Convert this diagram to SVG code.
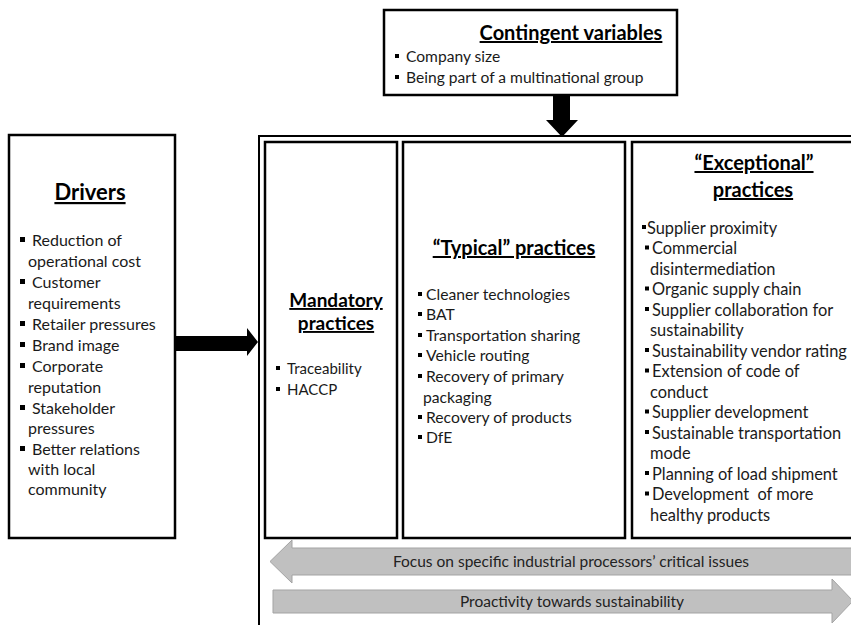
<svg xmlns="http://www.w3.org/2000/svg" width="851" height="625" viewBox="0 0 851 625">
<style>
text{font-family:Lato,"Open Sans","Liberation Sans",sans-serif;fill:#1a1a1a}
.box{fill:#fff;stroke:#000;stroke-width:2.5}
.outer{fill:#fff;stroke:#000;stroke-width:2}
.title{font-weight:bold;font-size:20px;text-decoration:underline;text-anchor:middle;fill:#000}
.b16{font-size:16px}
.b15{font-size:15px}
.bt{font-size:15.7px}
.bx{font-size:16.4px}
.bc{font-size:15.6px}
.sq{fill:#000}
.black{fill:#000}
.gray{fill:#c0c0c0;stroke:#a3a3a3;stroke-width:1}
.glab{font-size:15.5px;text-anchor:middle;fill:#222}
</style>
<g id="practices-frame">
<rect class="outer" x="259" y="136" width="700" height="600"/>
</g>
<g id="contingent">
<rect class="box" x="384" y="10" width="293" height="85"/>
<text class="title" x="571" y="40">Contingent variables</text>
<g class="bc">
<rect class="sq" x="395" y="54" width="4" height="4"/>
<text x="406" y="62">Company size</text>
<rect class="sq" x="395" y="75" width="4" height="4"/>
<text x="406" y="83">Being part of a multinational group</text>
</g>
</g>
<g id="drivers">
<rect class="box" x="9" y="135" width="166" height="403"/>
<text class="title" x="90" y="200" style="font-size:22px">Drivers</text>
<g class="b16">
<rect class="sq" x="20" y="237" width="5" height="5"/><text x="32" y="245.5">Reduction of</text>
<text x="28" y="266.5">operational cost</text>
<rect class="sq" x="20" y="279" width="5" height="5"/><text x="32" y="287.5">Customer</text>
<text x="28" y="308.5">requirements</text>
<rect class="sq" x="20" y="321" width="5" height="5"/><text x="32" y="329.5">Retailer pressures</text>
<rect class="sq" x="20" y="342" width="5" height="5"/><text x="32" y="350.5">Brand image</text>
<rect class="sq" x="20" y="363" width="5" height="5"/><text x="32" y="371.5">Corporate</text>
<text x="28" y="392.5">reputation</text>
<rect class="sq" x="20" y="405" width="5" height="5"/><text x="32" y="413.5">Stakeholder</text>
<text x="28" y="433.5">pressures</text>
<rect class="sq" x="20" y="446" width="5" height="5"/><text x="32" y="454.5">Better relations</text>
<text x="28" y="474.5">with local</text>
<text x="28" y="494.5">community</text>
</g>
</g>
<g id="mandatory">
<rect class="box" x="265" y="142" width="132" height="396"/>
<text class="title" x="336" y="307" style="font-size:19px">Mandatory</text>
<text class="title" x="336" y="330" style="font-size:19px">practices</text>
<g class="b15">
<rect class="sq" x="276" y="366" width="4" height="4"/><text x="287" y="374">Traceability</text>
<rect class="sq" x="276" y="387" width="4" height="4"/><text x="287" y="395">HACCP</text>
</g>
</g>
<g id="typical">
<rect class="box" x="403" y="142" width="222" height="396"/>
<text class="title" x="514" y="255">“Typical” practices</text>
<g class="bt">
<rect class="sq" x="418" y="292" width="4" height="4"/><text x="426" y="300">Cleaner technologies</text>
<rect class="sq" x="418" y="312" width="4" height="4"/><text x="426" y="320">BAT</text>
<rect class="sq" x="418" y="333" width="4" height="4"/><text x="426" y="341">Transportation sharing</text>
<rect class="sq" x="418" y="353" width="4" height="4"/><text x="426" y="361">Vehicle routing</text>
<rect class="sq" x="418" y="374" width="4" height="4"/><text x="426" y="382">Recovery of primary</text>
<text x="423" y="403">packaging</text>
<rect class="sq" x="418" y="415" width="4" height="4"/><text x="426" y="423">Recovery of products</text>
<rect class="sq" x="418" y="435" width="4" height="4"/><text x="426" y="443">DfE</text>
</g>
</g>
<g id="exceptional">
<rect class="box" x="632" y="142" width="300" height="396"/>
<text class="title" x="754" y="170">“Exceptional”</text>
<text class="title" x="753" y="197">practices</text>
<g class="bx">
<rect class="sq" x="642" y="225" width="4" height="4"/><text x="647" y="233.5">Supplier proximity</text>
<rect class="sq" x="645" y="245.5" width="4" height="4"/><text x="652" y="254">Commercial</text>
<text x="650" y="274.5">disintermediation</text>
<rect class="sq" x="645" y="286.5" width="4" height="4"/><text x="652" y="295">Organic supply chain</text>
<rect class="sq" x="645" y="307" width="4" height="4"/><text x="652" y="315.5">Supplier collaboration for</text>
<text x="650" y="336">sustainability</text>
<rect class="sq" x="645" y="348" width="4" height="4"/><text x="652" y="356.5">Sustainability vendor rating</text>
<rect class="sq" x="645" y="368.5" width="4" height="4"/><text x="652" y="377">Extension of code of</text>
<text x="650" y="397.5">conduct</text>
<rect class="sq" x="645" y="409.5" width="4" height="4"/><text x="652" y="418">Supplier development</text>
<rect class="sq" x="645" y="430" width="4" height="4"/><text x="652" y="438.5">Sustainable transportation</text>
<text x="650" y="459">mode</text>
<rect class="sq" x="645" y="471" width="4" height="4"/><text x="652" y="479.5">Planning of load shipment</text>
<rect class="sq" x="645" y="491.5" width="4" height="4"/><text x="652" y="500" xml:space="preserve">Development  of more</text>
<text x="650" y="520.5">healthy products</text>
</g>
</g>
<g id="connectors">
<polygon class="black" points="553,95 570,95 570,120 578,120 562,137 546,120 553,120"/>
<polygon class="black" points="176,336 247,336 247,328 258,342 247,356 247,351 176,351"/>
</g>
<g id="focus-arrow">
<polygon class="gray" points="270,561.5 292,540 292,548 860,548 860,575 292,575 292,583"/>
<text class="glab" x="571" y="566.5">Focus on specific industrial processors’ critical issues</text>
</g>
<g id="proactivity-arrow">
<polygon class="gray" points="273,590 832,590 832,579 853,601 832,623 832,613 273,613"/>
<text class="glab" x="572" y="607">Proactivity towards sustainability</text>
</g>
</svg>
